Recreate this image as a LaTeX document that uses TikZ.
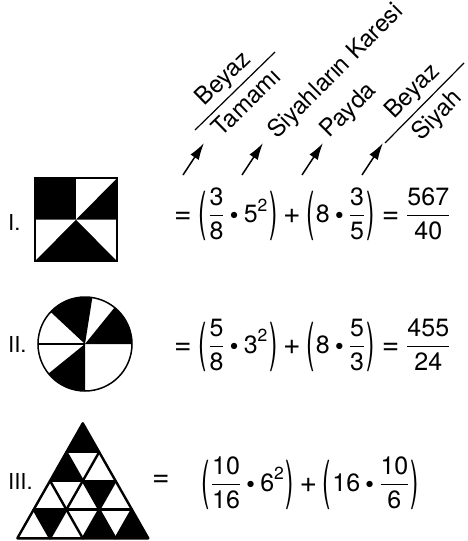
\documentclass[tikz,border=0pt]{standalone}
\usepackage{amsmath,graphicx}
\usepackage{fontspec}
\setmainfont{TeX Gyre Heros}
\usetikzlibrary{arrows.meta}
\newcommand{\tx}[1]{\text{#1}}
\newcommand{\fr}[2]{\dfrac{\tx{#1}}{\tx{#2}}}
\newcommand{\dt}{\mathbin{\vcenter{\hbox{\scalebox{0.65}{$\bullet$}}}}}
\newcommand{\lp}{\mathopen{\vcenter{\hbox{\scalebox{1}[2.1]{(}}}}\mkern1mu\relax}
\newcommand{\rp}{\mkern1mu\relax\mathclose{\vcenter{\hbox{\scalebox{1}[2.1]{)}}}}}
\newcommand{\eqs}{\mathrel{\tx{\raisebox{-0.07em}{\scalebox{1.2}{=}}}}}
\newcommand{\pls}{\mathbin{\tx{\raisebox{-0.07em}{\scalebox{1.2}{+}}}}}

\begin{document}
\begin{tikzpicture}[x=1pt,y=1pt,>={Latex[length=17pt,width=10pt]},
  every node/.style={inner sep=0pt},
  roman/.style={font=\fontsize{22}{26}\selectfont,anchor=west},
  eq/.style={font=\fontsize{25}{30}\selectfont,anchor=west},
  tag/.style={font=\fontsize{24}{28}\selectfont},
  grid/.style={line width=2.4pt,line cap=round,line join=round}]
\useasboundingbox (0,0) rectangle (467,-541);

% labels above the first formula
\coordinate (f1a) at (195,-130); \coordinate (f1b) at (275,-52);
\coordinate (f2a) at (385,-143); \coordinate (f2b) at (464,-63);
\draw[line width=1.2pt] (f1a) -- node[tag,sloped,above,inner sep=4pt] (b1) {Beyaz} node[tag,sloped,below,inner sep=6pt] (t1) {Tamamı} (f1b);
\draw[line width=1.2pt] (f2a) -- node[tag,sloped,above,inner sep=4pt] (b2) {Beyaz} node[tag,sloped,below,inner sep=6pt] (s2) {Siyah} (f2b);
\node[tag,rotate=45] (kr) at (336,-72) {Siyahların Karesi};
\node[tag,rotate=45] (pd) at (349,-111) {Payda};
\foreach \x [count=\i] in {183,242,302,362} {
  \coordinate (s\i) at (\x,-175); \coordinate (h\i) at (\x+21,-143);
  \draw[->,line width=1.5pt] (s\i) -- (h\i);
}

% I. square
\node[roman] (r1) at (8,-222) {I.};
\fill (35,-178) rectangle (117,-261);
\fill[white] (76,-219.5) -- (76,-178) -- (117,-178) -- cycle;
\fill[white] (35,-219.5) -- (76,-219.5) -- (35,-261) -- cycle;
\fill[white] (76,-219.5) -- (117,-219.5) -- (117,-261) -- cycle;
\draw[line width=2.2pt] (35,-178) rectangle (117,-261);
\node[eq] (e1) at (174,-214) {$\eqs\lp\fr{3}{8}\dt\tx{5}^{\tx{2}}\rp\pls\lp\tx{8}\dt\fr{3}{5}\rp\eqs\fr{567}{40}$};

% II. circle
\node[roman] (r2) at (8,-344) {II.};
\coordinate (ci) at (85,-344);
\fill[white] (ci) circle[radius=47pt];
\foreach \a/\b in {0/51,81/137,219/270}
  \fill (ci) -- ++(\a:47pt) arc[start angle=\a,end angle=\b,radius=47pt] -- cycle;
\draw[line width=1.5pt] (ci) -- ++(180:47pt);
\draw[line width=1.5pt] (ci) circle[radius=47pt];
\node[eq] (e2) at (174,-345) {$\eqs\lp\fr{5}{8}\dt\tx{3}^{\tx{2}}\rp\pls\lp\tx{8}\dt\fr{5}{3}\rp\eqs\fr{455}{24}$};

% III. triangle
\node[roman] (r3) at (8,-481) {III.};
\begin{scope}[shift={(17.3,-538.3)},x={(32.75pt,0pt)},y={(16.375pt,28.75pt)}]
  \fill (0,0) -- (4,0) -- (0,4) -- cycle;
  \foreach \r/\i in {2/1,1/0,1/1,1/2,0/0,0/1}
    \fill[white] (\i,\r) -- (\i+1,\r) -- (\i,\r+1) -- cycle;
  \foreach \r/\i in {2/0,1/0,0/1,0/2}
    \fill[white] (\i+1,\r) -- (\i+1,\r+1) -- (\i,\r+1) -- cycle;
  \foreach \k in {1,2,3} {
    \draw[grid] (0,\k) -- (4-\k,\k);
    \draw[grid] (\k,0) -- (\k,4-\k);
    \draw[grid] (\k,0) -- (0,\k);
  }
  \draw[grid] (0,0) -- (4,0) -- (0,4) -- cycle;
\end{scope}
\node[eq] (q3) at (152,-481) {\scalebox{1.2}{=}};
\node[eq] (e3) at (201,-483) {$\lp\fr{10}{16}\dt\tx{6}^{\tx{2}}\rp\pls\lp\tx{16}\dt\fr{10}{6}\rp$};
\end{tikzpicture}
\end{document}
